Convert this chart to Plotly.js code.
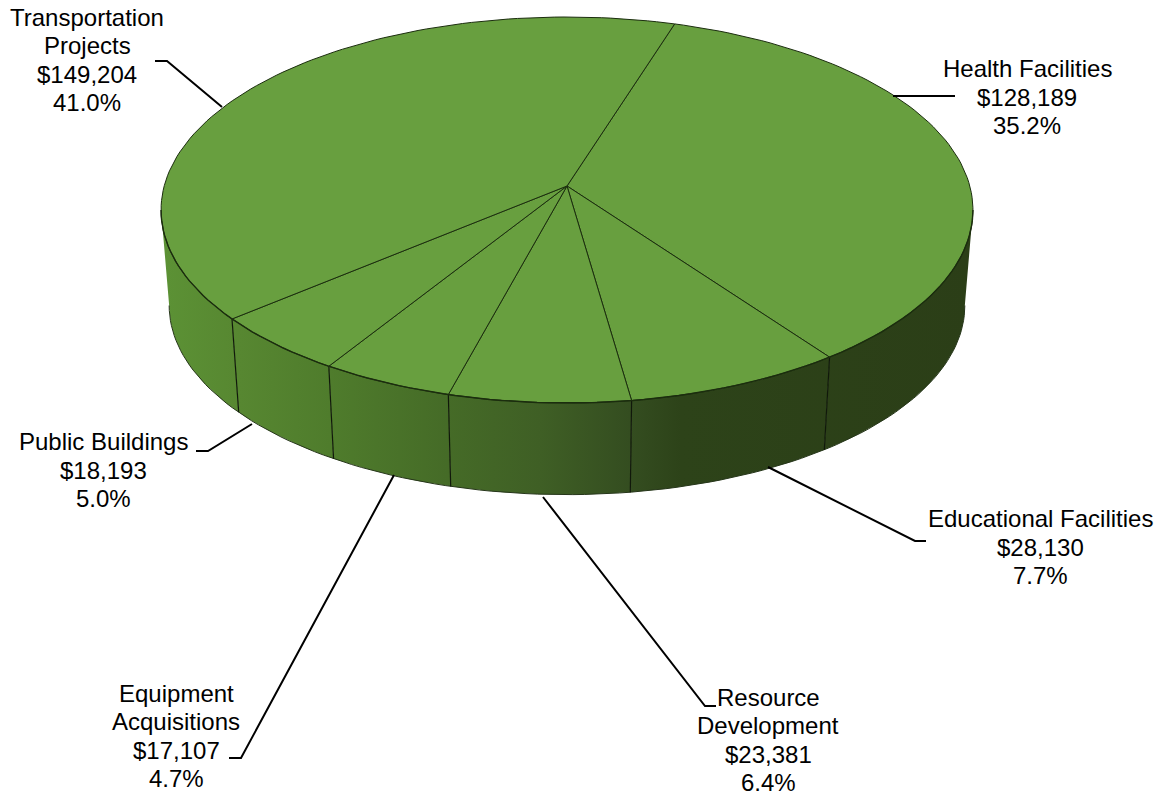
<!DOCTYPE html>
<html>
<head>
<meta charset="utf-8">
<script src="https://cdn.plot.ly/plotly-3.0.1.min.js"></script>
<style>html,body{margin:0;padding:0;background:#fff}#chart{width:1165px;height:798px}</style>
</head>
<body>
<div id="chart"></div>
<script>
// Funding by project category, listed clockwise from the first seam at the back of the disc.
const categories = [["Health Facilities"], ["Educational Facilities"], ["Resource", "Development"],
                    ["Equipment", "Acquisitions"], ["Public Buildings"], ["Transportation", "Projects"]];
const amounts = [128189, 28130, 23381, 17107, 18193, 149204];

// Label placement and leader paths, in pixel-sized axis units.
const labelX = [1027, 1040, 768, 176, 103, 87];
const labelY = [97, 547, 740, 736, 470, 60];
const lineGap = 28.4;
const leaderX = [[893, 955], [768, 915, 926], [543, 705, 716], [394, 241, 229], [252, 208, 196], [222, 167, 155]];
const leaderY = [[96, 96], [467, 541, 541], [497, 706, 706], [475, 758, 758], [424, 451, 451], [107, 61, 61]];

// Perspective model of the disc.
const hub = {x: 567, y: 186};
const spanX = 402.8, spanY = 190, tilt = 0.1243;
const startAngle = 17.4;
const lowerScale = 0.98, lowerDrop = 96;
const topGreen = "#689f3f", seamColor = "#1b2d0e";
const wallScale = [[0, "#5c9235"], [0.097, "#578731"], [0.208, "#4f7c2c"], [0.352, "#456b27"],
                   [0.467, "#3f5f25"], [0.578, "#344d20"], [0.64, "#2d4319"], [1, "#2b3e17"]];

const rad = d => d * Math.PI / 180;
function project(deg, r, lower) {
  const u = r * Math.sin(rad(deg)), v = -r * Math.cos(rad(deg));
  const w = 1 - tilt * v, s = lower ? lowerScale : 1;
  return [hub.x + s * spanX * u / w, hub.y + (lower ? lowerDrop : 0) + s * spanY * v / w];
}
function arc(a, b, lower) {
  const n = Math.max(2, Math.ceil(Math.abs(b - a) / 1.5)), pts = [];
  for (let i = 0; i <= n; i++) pts.push(project(a + (b - a) * i / n, 1, lower));
  return pts;
}

const total = amounts.reduce((a, b) => a + b, 0);
const edges = [startAngle];
amounts.forEach(v => edges.push(edges[edges.length - 1] + v / total * 360));

// The wall is only visible between the two silhouette points of the rim.
const sil = Math.acos(-tilt) * 180 / Math.PI;
const frontA = sil, frontB = 360 - sil;

const traces = [];
const xs = p => p.map(q => q[0]), ys = p => p.map(q => q[1]);

amounts.forEach((v, i) => {
  const a = Math.max(edges[i], frontA), b = Math.min(edges[i + 1], frontB);
  if (b <= a) return;
  const poly = arc(a, b, false).concat(arc(a, b, true).reverse());
  traces.push({x: xs(poly), y: ys(poly), mode: "lines", fill: "toself", line: {width: 0},
    fillgradient: {type: "horizontal", start: 161, stop: 973, colorscale: wallScale}});
});

// Lower rim and vertical seams of the wall.
const lowerRim = arc(frontA, frontB, true);
traces.push({x: xs(lowerRim), y: ys(lowerRim), mode: "lines", line: {color: "#26361a", width: 1}});
edges.slice(0, -1).forEach(e => {
  const d = ((e % 360) + 360) % 360;
  if (d < frontA || d > frontB) return;
  const p = project(d, 1, false), q = project(d, 1, true);
  traces.push({x: [p[0], q[0]], y: [p[1], q[1]], mode: "lines", line: {color: "#10180a", width: 1.2}});
});

// Top face wedges.
amounts.forEach((v, i) => {
  const poly = [[hub.x, hub.y]].concat(arc(edges[i], edges[i + 1], false), [[hub.x, hub.y]]);
  traces.push({x: xs(poly), y: ys(poly), mode: "lines", fill: "toself", fillcolor: topGreen,
    line: {color: seamColor, width: 1}});
});

// Heavier edge where the top face meets the wall.
const frontRim = arc(frontA, frontB, false);
traces.push({x: xs(frontRim), y: ys(frontRim), mode: "lines", line: {color: "#1b2d0e", width: 1.4}});

// Leader lines.
leaderX.forEach((lx, i) => traces.push({x: lx, y: leaderY[i], mode: "lines", line: {color: "#000", width: 2}}));

// Each label line is its own annotation so the line pitch can be set independently of the font size.
const annotations = [];
categories.forEach((name, i) => {
  const lines = name.concat(["$" + amounts[i].toLocaleString("en-US"), (amounts[i] / total * 100).toFixed(1) + "%"]);
  lines.forEach((text, j) => annotations.push({
    x: labelX[i], y: labelY[i] + (j - (lines.length - 1) / 2) * lineGap,
    xref: "x", yref: "y", showarrow: false, xanchor: "center", yanchor: "middle", align: "center", text,
    font: {family: "Liberation Sans, Arial, sans-serif", size: 24, color: "#000"}
  }));
});

const hiddenAxis = range => ({range, visible: false, fixedrange: true, showgrid: false, zeroline: false});

Plotly.newPlot("chart", traces.map(t => Object.assign({hoverinfo: "skip", showlegend: false, type: "scatter"}, t)), {
  width: 1165, height: 798,
  margin: {l: 0, r: 0, t: 0, b: 0},
  paper_bgcolor: "#fff", plot_bgcolor: "#fff",
  xaxis: hiddenAxis([0, 1165]),
  yaxis: hiddenAxis([798, 0]),
  annotations,
  showlegend: false
}, {displayModeBar: false, staticPlot: true});
</script>
</body>
</html>
